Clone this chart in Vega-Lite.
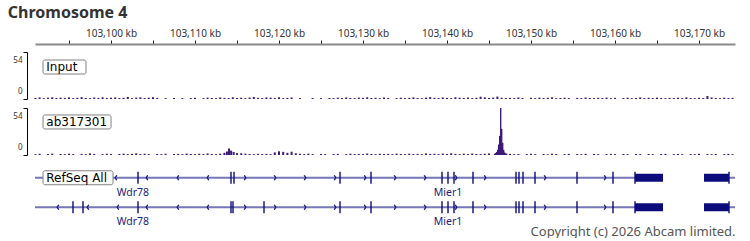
{
  "$schema": "https://vega.github.io/schema/vega-lite/v6.json",
  "background": "white",
  "padding": {"left": 7, "top": 5, "right": 5, "bottom": 0},
  "title": {"text": "Chromosome 4", "anchor": "start", "frame": "bounds", "font": "Noto Sans", "fontSize": 16, "fontWeight": "bold", "color": "#333333", "offset": 7, "dx": -5},
  "config": {"view": {"stroke": null}, "axis": {"grid": false}},
  "spacing": 7,
  "resolve": {"scale": {"x": "independent", "y": "independent"}},
  "datasets": {
    "input": [
      {"k":103091.0,"v":1.2},{"k":103091.5,"v":1.8},{"k":103092.0,"v":1.0},{"k":103092.5,"v":1.5},{"k":103093.0,"v":2.0},{"k":103093.5,"v":1.1},{"k":103094.0,"v":1.6},{"k":103094.5,"v":1.3},{"k":103095.0,"v":1.9},{"k":103095.5,"v":1.0},{"k":103096.0,"v":1.4},{"k":103096.5,"v":2.2},{"k":103097.0,"v":1.2},{"k":103097.5,"v":1.0},{"k":103098.0,"v":1.7},{"k":103098.5,"v":1.3},{"k":103099.0,"v":2.0},{"k":103099.5,"v":1.1},{"k":103100.0,"v":1.5},{"k":103100.5,"v":1.8},{"k":103101.0,"v":1.2},{"k":103101.5,"v":1.4},{"k":103102.0,"v":2.4},{"k":103102.5,"v":1.0},{"k":103103.0,"v":1.6},{"k":103103.5,"v":1.9},{"k":103104.0,"v":1.1},{"k":103104.5,"v":1.5},{"k":103105.0,"v":2.1},{"k":103105.5,"v":1.3},{"k":103106.5,"v":1.0},{"k":103107.5,"v":1.2},{"k":103108.5,"v":1.0},{"k":103109.5,"v":1.1},{"k":103110.0,"v":1.4},{"k":103111.0,"v":1.0},{"k":103111.5,"v":1.6},{"k":103112.0,"v":1.2},{"k":103112.5,"v":1.0},{"k":103113.0,"v":1.8},{"k":103113.5,"v":1.3},{"k":103114.0,"v":1.1},{"k":103114.5,"v":2.0},{"k":103115.0,"v":1.2},{"k":103115.5,"v":1.5},{"k":103116.0,"v":1.0},{"k":103116.5,"v":1.7},{"k":103117.0,"v":2.3},{"k":103117.5,"v":1.4},{"k":103118.0,"v":1.1},{"k":103118.5,"v":1.9},{"k":103119.0,"v":1.6},{"k":103119.5,"v":1.2},{"k":103120.0,"v":2.0},{"k":103120.5,"v":1.0},{"k":103121.0,"v":1.3},{"k":103121.5,"v":1.8},{"k":103122.5,"v":1.0},{"k":103124.0,"v":1.1},{"k":103125.0,"v":1.0},{"k":103126.0,"v":1.2},{"k":103126.5,"v":1.0},{"k":103127.0,"v":1.5},{"k":103127.5,"v":1.1},{"k":103128.0,"v":1.8},{"k":103128.5,"v":1.2},{"k":103129.0,"v":1.0},{"k":103129.5,"v":1.6},{"k":103130.0,"v":1.3},{"k":103130.5,"v":2.0},{"k":103131.0,"v":1.1},{"k":103131.5,"v":1.4},{"k":103132.0,"v":1.0},{"k":103132.5,"v":1.7},{"k":103133.0,"v":1.2},{"k":103134.0,"v":1.0},{"k":103134.5,"v":1.5},{"k":103135.0,"v":1.1},{"k":103135.5,"v":1.3},{"k":103136.0,"v":1.9},{"k":103136.5,"v":1.2},{"k":103137.0,"v":1.0},{"k":103137.5,"v":1.6},{"k":103138.0,"v":2.2},{"k":103138.5,"v":1.4},{"k":103139.0,"v":1.1},{"k":103139.5,"v":1.8},{"k":103140.0,"v":1.3},{"k":103140.5,"v":1.0},{"k":103141.0,"v":2.0},{"k":103141.5,"v":1.5},{"k":103142.0,"v":1.2},{"k":103142.5,"v":1.7},{"k":103143.0,"v":1.0},{"k":103143.5,"v":1.4},{"k":103144.0,"v":2.6},{"k":103144.5,"v":1.9},{"k":103145.0,"v":1.2},{"k":103145.5,"v":1.6},{"k":103146.0,"v":2.8},{"k":103146.5,"v":1.5},{"k":103147.0,"v":1.1},{"k":103147.5,"v":1.3},{"k":103148.0,"v":1.0},{"k":103148.5,"v":1.8},{"k":103149.0,"v":1.2},{"k":103150.0,"v":1.4},{"k":103150.5,"v":1.0},{"k":103151.0,"v":1.6},{"k":103151.5,"v":1.1},{"k":103152.0,"v":1.3},{"k":103152.5,"v":1.9},{"k":103153.0,"v":1.0},{"k":103153.5,"v":1.2},{"k":103154.0,"v":1.5},{"k":103154.5,"v":1.1},{"k":103155.5,"v":1.3},{"k":103156.0,"v":1.0},{"k":103156.5,"v":1.7},{"k":103157.0,"v":1.2},{"k":103157.5,"v":1.0},{"k":103158.0,"v":1.4},{"k":103158.5,"v":1.1},{"k":103159.0,"v":1.6},{"k":103159.5,"v":1.0},{"k":103160.0,"v":1.3},{"k":103161.0,"v":1.1},{"k":103161.5,"v":1.5},{"k":103162.0,"v":1.0},{"k":103162.5,"v":1.2},{"k":103163.0,"v":1.8},{"k":103163.5,"v":1.1},{"k":103164.0,"v":1.4},{"k":103164.5,"v":1.0},{"k":103165.0,"v":1.6},{"k":103165.5,"v":1.2},{"k":103166.0,"v":1.0},{"k":103166.5,"v":1.3},{"k":103167.0,"v":1.1},{"k":103167.5,"v":1.5},{"k":103168.0,"v":1.0},{"k":103168.5,"v":1.9},{"k":103169.0,"v":1.2},{"k":103169.5,"v":1.0},{"k":103170.0,"v":1.4},{"k":103170.5,"v":1.1},{"k":103171.0,"v":3.5},{"k":103171.5,"v":1.8},{"k":103172.0,"v":1.2},{"k":103172.5,"v":1.0},{"k":103173.0,"v":1.5},{"k":103173.5,"v":1.1},{"k":103174.0,"v":1.3}
    ],
    "chip": [
      {"k":103091.0,"v":1.0},{"k":103091.5,"v":1.4},{"k":103092.5,"v":1.1},{"k":103093.0,"v":1.6},{"k":103094.0,"v":1.2},{"k":103094.5,"v":1.0},{"k":103095.0,"v":1.5},{"k":103095.5,"v":1.1},{"k":103096.5,"v":1.3},{"k":103097.0,"v":1.0},{"k":103097.5,"v":1.8},{"k":103098.0,"v":1.2},{"k":103099.0,"v":1.0},{"k":103099.5,"v":1.4},{"k":103100.0,"v":1.1},{"k":103101.0,"v":1.2},{"k":103101.5,"v":1.6},{"k":103102.0,"v":1.0},{"k":103102.5,"v":1.3},{"k":103103.0,"v":1.9},{"k":103103.5,"v":1.1},{"k":103104.0,"v":1.4},{"k":103104.5,"v":1.0},{"k":103105.5,"v":1.2},{"k":103106.0,"v":1.0},{"k":103106.5,"v":1.5},{"k":103107.5,"v":1.1},{"k":103108.0,"v":1.3},{"k":103108.5,"v":1.0},{"k":103109.0,"v":1.6},{"k":103109.5,"v":1.2},{"k":103110.0,"v":1.0},{"k":103110.5,"v":1.4},{"k":103111.0,"v":1.1},{"k":103111.5,"v":1.8},{"k":103112.0,"v":1.2},{"k":103112.5,"v":1.0},{"k":103113.0,"v":1.5},{"k":103113.5,"v":2.5},{"k":103113.8,"v":4.0},{"k":103114.05,"v":7.5},{"k":103114.3,"v":5.0},{"k":103114.6,"v":3.5},{"k":103115.0,"v":2.2},{"k":103115.5,"v":2.0},{"k":103116.0,"v":1.6},{"k":103116.5,"v":1.2},{"k":103117.0,"v":1.0},{"k":103117.5,"v":1.4},{"k":103118.0,"v":1.1},{"k":103118.5,"v":1.3},{"k":103119.0,"v":1.0},{"k":103119.5,"v":3.0},{"k":103120.0,"v":4.2},{"k":103120.5,"v":3.6},{"k":103121.0,"v":2.5},{"k":103121.5,"v":3.8},{"k":103122.0,"v":2.0},{"k":103122.5,"v":1.4},{"k":103123.0,"v":1.1},{"k":103123.5,"v":1.6},{"k":103124.0,"v":1.0},{"k":103125.0,"v":1.2},{"k":103125.5,"v":1.0},{"k":103126.5,"v":1.1},{"k":103127.0,"v":1.3},{"k":103128.0,"v":1.0},{"k":103128.5,"v":1.5},{"k":103129.0,"v":1.1},{"k":103129.5,"v":1.2},{"k":103130.0,"v":1.0},{"k":103130.5,"v":1.7},{"k":103131.0,"v":1.2},{"k":103131.5,"v":1.0},{"k":103132.0,"v":1.4},{"k":103132.5,"v":1.1},{"k":103133.0,"v":1.3},{"k":103133.5,"v":1.0},{"k":103134.0,"v":1.6},{"k":103134.5,"v":1.2},{"k":103135.0,"v":1.0},{"k":103135.5,"v":1.5},{"k":103136.0,"v":1.1},{"k":103136.5,"v":1.3},{"k":103137.0,"v":1.0},{"k":103137.5,"v":1.8},{"k":103138.0,"v":1.2},{"k":103138.5,"v":1.4},{"k":103139.0,"v":1.0},{"k":103139.5,"v":1.6},{"k":103140.0,"v":1.1},{"k":103140.5,"v":2.0},{"k":103141.0,"v":1.3},{"k":103141.5,"v":1.0},{"k":103142.0,"v":1.5},{"k":103142.5,"v":1.1},{"k":103143.0,"v":1.7},{"k":103143.5,"v":1.2},{"k":103144.0,"v":1.0},{"k":103144.5,"v":1.4},{"k":103145.0,"v":1.8},{"k":103147.5,"v":1.3},{"k":103148.0,"v":1.0},{"k":103148.5,"v":1.2},{"k":103149.5,"v":1.1},{"k":103150.0,"v":1.4},{"k":103150.5,"v":1.0},{"k":103151.5,"v":1.2},{"k":103152.0,"v":1.0},{"k":103152.5,"v":1.5},{"k":103153.0,"v":1.1},{"k":103154.0,"v":1.0},{"k":103154.5,"v":1.3},{"k":103155.5,"v":1.1},{"k":103156.0,"v":1.0},{"k":103156.5,"v":1.4},{"k":103157.5,"v":1.2},{"k":103158.0,"v":1.0},{"k":103159.0,"v":1.1},{"k":103159.5,"v":1.3},{"k":103160.0,"v":1.0},{"k":103161.0,"v":1.2},{"k":103161.5,"v":1.0},{"k":103162.5,"v":1.1},{"k":103163.0,"v":1.0},{"k":103164.0,"v":1.2},{"k":103164.5,"v":1.0},{"k":103165.5,"v":1.1},{"k":103166.0,"v":1.3},{"k":103167.0,"v":1.0},{"k":103167.5,"v":1.2},{"k":103168.0,"v":1.0},{"k":103169.0,"v":1.1},{"k":103169.5,"v":1.0},{"k":103170.0,"v":1.4},{"k":103171.0,"v":1.1},{"k":103171.5,"v":1.0},{"k":103172.0,"v":1.2},{"k":103173.0,"v":1.0},{"k":103173.5,"v":1.3},{"k":103174.0,"v":1.0}
    ],
    "peak": [
      {"k":103145.67,"v":1.5},{"k":103145.79,"v":2.2},{"k":103145.91,"v":3.5},{"k":103146.03,"v":6},{"k":103146.15,"v":12},{"k":103146.27,"v":22},{"k":103146.39,"v":54},{"k":103146.51,"v":30},{"k":103146.63,"v":14},{"k":103146.75,"v":6},{"k":103146.87,"v":3},{"k":103146.99,"v":2},{"k":103147.11,"v":1.5}
    ],
    "introns": [
      {"row":"r1","s":103085,"e":103165.714},{"row":"r1","s":103170.595,"e":103180},
      {"row":"r2","s":103085,"e":103165.714},{"row":"r2","s":103170.595,"e":103180}
    ],
    "exons": [
      {"row":"r1","k":103103.214},{"row":"r1","k":103114.286},{"row":"r1","k":103114.643},{"row":"r1","k":103127.262},{"row":"r1","k":103130.952},{"row":"r1","k":103139.405},{"row":"r1","k":103140.119},{"row":"r1","k":103140.833},{"row":"r1","k":103143.095},{"row":"r1","k":103148.214},{"row":"r1","k":103148.571},{"row":"r1","k":103149.048},{"row":"r1","k":103150.476},{"row":"r1","k":103155.476},{"row":"r1","k":103159.762},{"row":"r1","k":103162.381},{"row":"r1","k":103173.571},
      {"row":"r2","k":103095.476},{"row":"r2","k":103096.667},{"row":"r2","k":103103.214},{"row":"r2","k":103114.286},{"row":"r2","k":103114.524},{"row":"r2","k":103118.214},{"row":"r2","k":103127.262},{"row":"r2","k":103130.952},{"row":"r2","k":103139.405},{"row":"r2","k":103140.119},{"row":"r2","k":103140.833},{"row":"r2","k":103143.095},{"row":"r2","k":103148.214},{"row":"r2","k":103148.571},{"row":"r2","k":103149.048},{"row":"r2","k":103150.476},{"row":"r2","k":103155.476},{"row":"r2","k":103159.762},{"row":"r2","k":103162.381},{"row":"r2","k":103173.571}
    ],
    "utr": [
      {"row":"r1","s":103162.381,"e":103165.714},{"row":"r1","s":103170.595,"e":103173.571},
      {"row":"r2","s":103162.381,"e":103165.714},{"row":"r2","s":103170.595,"e":103173.571}
    ],
    "arrows": [
      {"row":"r1","k":103100.6,"strand":"-"},{"row":"r1","k":103104.286,"strand":"-"},{"row":"r1","k":103107.976,"strand":"-"},{"row":"r1","k":103111.548,"strand":"-"},
      {"row":"r1","k":103115.952,"strand":"+"},{"row":"r1","k":103119.524,"strand":"+"},{"row":"r1","k":103123.095,"strand":"+"},{"row":"r1","k":103126.667,"strand":"+"},{"row":"r1","k":103130.238,"strand":"+"},{"row":"r1","k":103133.81,"strand":"+"},{"row":"r1","k":103137.381,"strand":"+"},{"row":"r1","k":103141.071,"strand":"+"},{"row":"r1","k":103144.524,"strand":"+"},{"row":"r1","k":103151.667,"strand":"+"},{"row":"r1","k":103158.81,"strand":"+"},
      {"row":"r2","k":103093.69,"strand":"-"},{"row":"r2","k":103097.262,"strand":"-"},{"row":"r2","k":103100.833,"strand":"-"},{"row":"r2","k":103104.286,"strand":"-"},{"row":"r2","k":103107.976,"strand":"-"},{"row":"r2","k":103111.548,"strand":"-"},
      {"row":"r2","k":103115.952,"strand":"+"},{"row":"r2","k":103119.524,"strand":"+"},{"row":"r2","k":103123.095,"strand":"+"},{"row":"r2","k":103126.667,"strand":"+"},{"row":"r2","k":103130.238,"strand":"+"},{"row":"r2","k":103133.81,"strand":"+"},{"row":"r2","k":103137.381,"strand":"+"},{"row":"r2","k":103141.071,"strand":"+"},{"row":"r2","k":103144.524,"strand":"+"},{"row":"r2","k":103151.667,"strand":"+"},{"row":"r2","k":103158.81,"strand":"+"}
    ],
    "genes": [
      {"row":"r1","k":103102.6,"name":"Wdr78"},{"row":"r1","k":103140.12,"name":"Mier1"},
      {"row":"r2","k":103102.6,"name":"Wdr78"},{"row":"r2","k":103140.12,"name":"Mier1"}
    ]
  },
  "vconcat": [
    {
      "width": 700,
      "height": 47,
      "layer": [
        {
          "data": {"name": "input"},
          "mark": {"type": "bar", "orient": "vertical", "width": 2, "color": "#3d1a7a"},
          "encoding": {
            "x": {"field": "k", "type": "quantitative",
              "scale": {"domain": [103090.952, 103174.286], "nice": false, "zero": false, "padding": 0},
              "axis": {"orient": "top", "offset": 8, "values": [103095,103100,103105,103110,103115,103120,103125,103130,103135,103140,103145,103150,103155,103160,103165,103170],
                "labelExpr": "datum.value % 10 == 0 ? format(datum.value, ',') + ' kb' : ''",
                "tickSize": 4, "tickColor": "#222222", "tickWidth": 1, "domainColor": "#8a8a8a", "domainWidth": 2,
                "labelFont": "Noto Sans", "labelFontSize": 10, "labelColor": "#333333", "labelPadding": 2, "labelOverlap": false, "labelFlush": false, "title": null, "grid": false}},
            "y": {"field": "v", "type": "quantitative",
              "scale": {"domain": [0, 54], "nice": false},
              "axis": {"orient": "left", "offset": 8, "values": [0, 54], "tickSize": 4, "tickColor": "#000000", "domainColor": "#000000", "domainWidth": 1,
                "labelFont": "Noto Sans", "labelFontSize": 8, "labelColor": "#333333", "labelPadding": 1, "labelFlush": true, "labelFlushOffset": -4, "title": null, "grid": false}}
          }
        },
        {
          "data": {"values": [{}]},
          "mark": {"type": "rect", "fill": "white", "stroke": "#808080", "strokeWidth": 1, "cornerRadius": 2},
          "encoding": {
            "x": {"datum": 103091.905, "type": "quantitative"},
            "x2": {"datum": 103097.024},
            "y": {"datum": 44.8, "type": "quantitative"},
            "y2": {"datum": 28.7}
          }
        },
        {
          "data": {"values": [{}]},
          "mark": {"type": "text", "text": "Input", "align": "left", "baseline": "middle", "font": "DejaVu Sans", "fontSize": 12, "color": "#000000"},
          "encoding": {
            "x": {"datum": 103092.3, "type": "quantitative"},
            "y": {"datum": 36.8, "type": "quantitative"}
          }
        }
      ]
    },
    {
      "width": 700,
      "height": 47,
      "layer": [
        {
          "data": {"name": "chip"},
          "mark": {"type": "bar", "orient": "vertical", "width": 2, "color": "#3d1a7a"},
          "encoding": {
            "x": {"field": "k", "type": "quantitative",
              "scale": {"domain": [103090.952, 103174.286], "nice": false, "zero": false, "padding": 0}, "axis": null},
            "y": {"field": "v", "type": "quantitative",
              "scale": {"domain": [0, 54], "nice": false},
              "axis": {"orient": "left", "offset": 8, "values": [0, 54], "tickSize": 4, "tickColor": "#000000", "domainColor": "#000000", "domainWidth": 1,
                "labelFont": "Noto Sans", "labelFontSize": 8, "labelColor": "#333333", "labelPadding": 1, "labelFlush": true, "labelFlushOffset": -4, "title": null, "grid": false}}
          }
        },
        {
          "data": {"name": "peak"},
          "mark": {"type": "bar", "orient": "vertical", "width": 1.4, "color": "#3d1a7a"},
          "encoding": {
            "x": {"field": "k", "type": "quantitative"},
            "y": {"field": "v", "type": "quantitative"}
          }
        },
        {
          "data": {"values": [{}]},
          "mark": {"type": "rect", "fill": "white", "stroke": "#808080", "strokeWidth": 1, "cornerRadius": 2},
          "encoding": {
            "x": {"datum": 103091.905, "type": "quantitative"},
            "x2": {"datum": 103100.0},
            "y": {"datum": 46, "type": "quantitative"},
            "y2": {"datum": 29.9}
          }
        },
        {
          "data": {"values": [{}]},
          "mark": {"type": "text", "text": "ab317301", "align": "left", "baseline": "middle", "font": "DejaVu Sans", "fontSize": 12, "color": "#000000"},
          "encoding": {
            "x": {"datum": 103092.3, "type": "quantitative"},
            "y": {"datum": 38, "type": "quantitative"}
          }
        }
      ]
    },
    {
      "width": 700,
      "height": 59,
      "encoding": {
        "y": {"field": "row", "type": "nominal", "scale": {"domain": ["r1", "r2"], "paddingInner": 0, "paddingOuter": 0}, "axis": null}
      },
      "layer": [
        {
          "data": {"name": "introns"},
          "mark": {"type": "rule", "color": "#7676b8", "strokeWidth": 1.8, "clip": true},
          "encoding": {
            "x": {"field": "s", "type": "quantitative",
              "scale": {"domain": [103090.952, 103174.286], "nice": false, "zero": false, "padding": 0},
              "axis": {"orient": "bottom", "domain": false, "ticks": false, "labels": false, "grid": false,
                "title": "Copyright (c) 2026 Abcam limited.", "titleAnchor": "end", "titleFont": "Noto Sans", "titleFontSize": 13, "titleFontWeight": "normal", "titleColor": "#555555", "titlePadding": 3}},
            "x2": {"field": "e"}
          }
        },
        {
          "data": {"name": "utr"},
          "mark": {"type": "bar", "size": 8, "color": "#0c0c7c"},
          "encoding": {
            "x": {"field": "s", "type": "quantitative"},
            "x2": {"field": "e"}
          }
        },
        {
          "data": {"name": "exons"},
          "mark": {"type": "tick", "orient": "vertical", "size": 12, "thickness": 2, "color": "#0c0c7c"},
          "encoding": {
            "x": {"field": "k", "type": "quantitative"}
          }
        },
        {
          "data": {"name": "arrows"},
          "mark": {"type": "point", "filled": false, "size": 25, "strokeWidth": 1.4, "color": "#1c1c86", "opacity": 1},
          "encoding": {
            "x": {"field": "k", "type": "quantitative"},
            "shape": {"field": "strand", "type": "nominal", "scale": {"domain": ["+", "-"], "range": ["M-0.3,-1L0.3,0L-0.3,1", "M0.3,-1L-0.3,0L0.3,1"]}, "legend": null}
          }
        },
        {
          "data": {"name": "genes"},
          "mark": {"type": "text", "dy": 15, "font": "Noto Sans", "fontSize": 10.5, "color": "#23237e", "align": "center", "baseline": "middle"},
          "encoding": {
            "x": {"field": "k", "type": "quantitative"},
            "text": {"field": "name"}
          }
        },
        {
          "data": {"values": [{}]},
          "mark": {"type": "bar", "size": 14, "fill": "white", "stroke": "#808080", "strokeWidth": 1, "cornerRadius": 2},
          "encoding": {
            "x": {"datum": 103091.905, "type": "quantitative"},
            "x2": {"datum": 103100.238},
            "y": {"datum": "r1", "type": "nominal"}
          }
        },
        {
          "data": {"values": [{}]},
          "mark": {"type": "text", "text": "RefSeq All", "align": "left", "baseline": "middle", "font": "DejaVu Sans", "fontSize": 12, "color": "#000000"},
          "encoding": {
            "x": {"datum": 103092.3, "type": "quantitative"},
            "y": {"datum": "r1", "type": "nominal"}
          }
        }
      ]
    }
  ]
}
